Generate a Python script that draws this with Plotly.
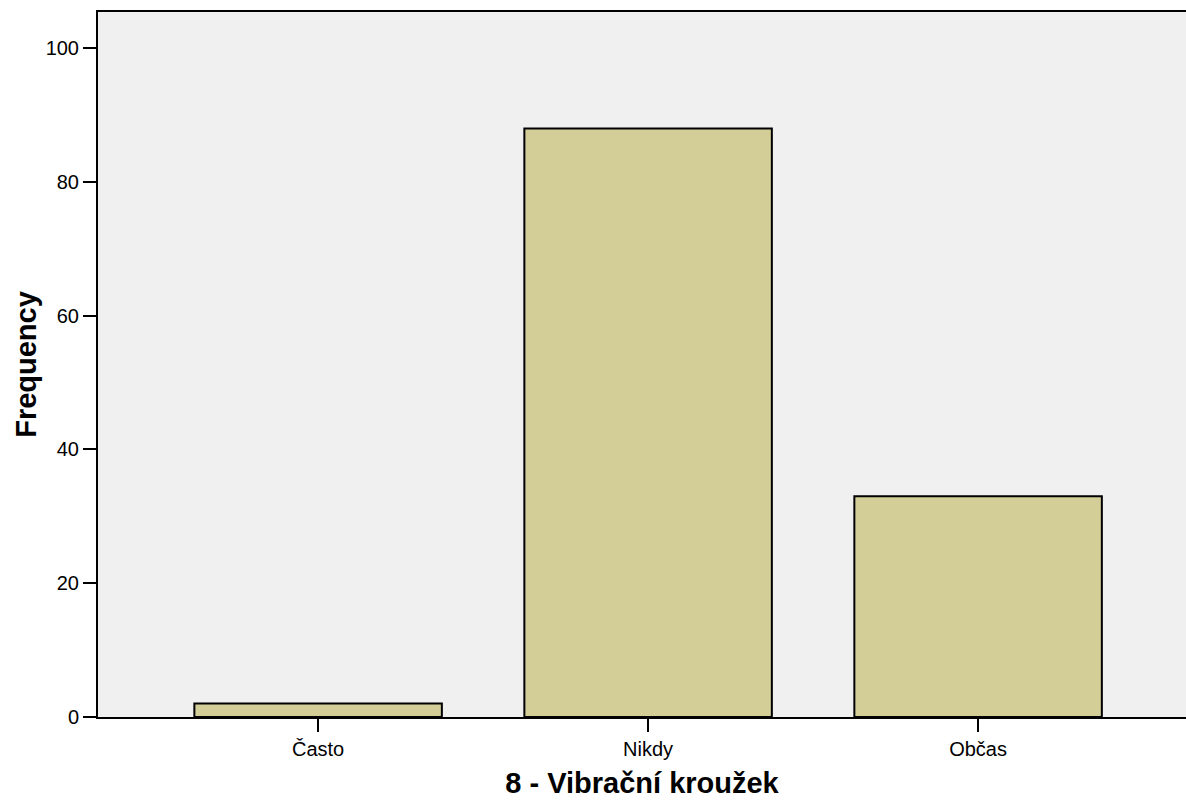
import plotly.graph_objects as go

categories = ["Často", "Nikdy", "Občas"]
frequencies = [2, 88, 33]
y_ticks = [0, 20, 40, 60, 80, 100]

fig = go.Figure(
    go.Bar(
        x=categories,
        y=frequencies,
        width=0.75,
        marker=dict(color="#D3CE98", line=dict(color="#000000", width=2)),
    )
)

fig.update_layout(
    width=1186,
    height=802,
    margin=dict(l=98, r=0, t=12, b=85),
    paper_bgcolor="#FFFFFF",
    plot_bgcolor="#F0F0F0",
    font=dict(family="Liberation Sans, Arial, sans-serif", size=20, color="#000000"),
    showlegend=False,
)

fig.update_xaxes(
    range=[-0.667, 2.63],
    showline=True,
    linecolor="#000000",
    linewidth=2,
    mirror=True,
    ticks="outside",
    ticklen=13,
    tickwidth=2,
    tickcolor="#000000",
    showgrid=False,
    title=dict(text="<b>8 - Vibrační kroužek</b>", font=dict(size=29), standoff=14),
)

fig.update_yaxes(
    range=[0, 105.4],
    tickvals=y_ticks,
    showline=True,
    linecolor="#000000",
    linewidth=2,
    ticks="outside",
    ticklen=13,
    tickwidth=2,
    tickcolor="#000000",
    showgrid=False,
    zeroline=False,
    title=dict(text="<b>Frequency</b>", font=dict(size=29), standoff=0),
)

fig.write_html("out.html")
